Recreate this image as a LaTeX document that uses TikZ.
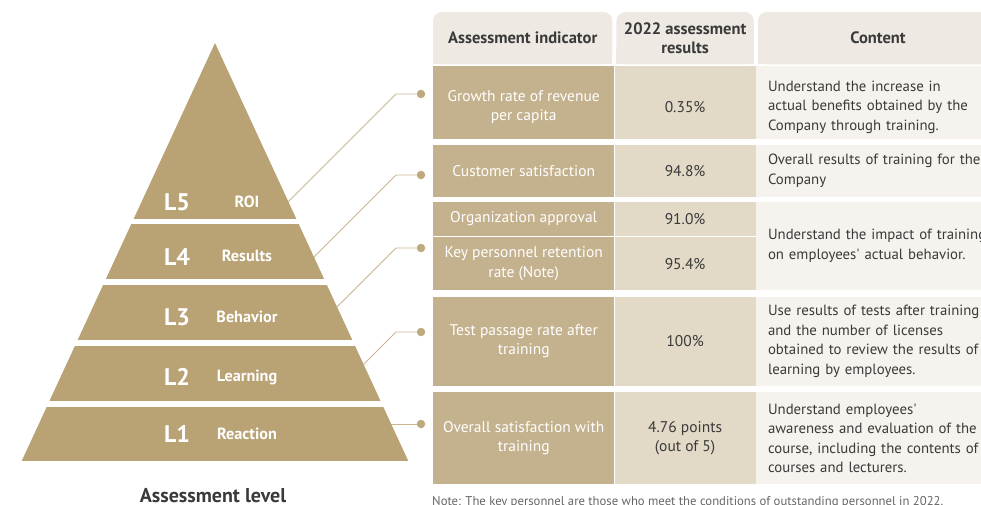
\documentclass[tikz,border=0pt]{standalone}
\usepackage{fontspec}
\setmainfont{PT Sans}
\usetikzlibrary{positioning, backgrounds}
\definecolor{pyramidfill}{HTML}{B9A274}
\definecolor{indicatorfill}{HTML}{C4B18D}
\definecolor{resultfill}{HTML}{E2D9C7}
\definecolor{contentfill}{HTML}{F6F3EE}
\definecolor{headfill}{HTML}{EEEAE3}
\definecolor{linkline}{HTML}{C9B690}
\definecolor{linkdot}{HTML}{BFA97F}
\definecolor{textdark}{HTML}{3A3A3A}
\definecolor{notegray}{HTML}{666666}

% taller first line, pushes the text of a cell a little lower
\newcommand{\rowdrop}{\rule{0pt}{19.5pt}}

\begin{document}
\begin{tikzpicture}[
        x=1pt, y=-1pt,
        levelnum/.style={
            text=white,
            font=\fontsize{24}{24}\selectfont\bfseries
        },
        levelname/.style={
            text=white,
            font=\fontsize{16.2}{18}\selectfont\bfseries
        },
        link/.style={
            draw=linkline,
            line width=0.9pt
        },
        linkend/.style={
            circle,
            fill=linkdot,
            inner sep=0pt,
            minimum size=8.5pt
        },
        headcell/.style={
            minimum height=52pt,
            inner sep=0pt,
            align=center,
            text=textdark,
            font=\fontsize{16.5}{19.5}\selectfont\bfseries
        },
        indicatorcell/.style={
            fill=indicatorfill,
            text=white,
            minimum width=181pt,
            inner sep=0pt,
            align=center,
            font=\fontsize{15.5}{19.5}\selectfont
        },
        resultcell/.style={
            fill=resultfill,
            text=textdark,
            minimum width=141pt,
            inner sep=0pt,
            align=center,
            font=\fontsize{15.5}{19.5}\selectfont
        },
        contentcell/.style={
            fill=contentfill,
            text=textdark,
            text width=300pt,
            inner xsep=12pt,
            inner ysep=0pt,
            align=left,
            font=\fontsize{14.8}{19.5}\selectfont
        }
    ]

        \useasboundingbox (0,0) rectangle (981,505);

        % ---------------------------------------------------------------------
        % Pyramid of assessment levels
        % ---------------------------------------------------------------------

        \begin{scope}
            \clip (215,43) -- (408.3,461) -- (21.7,461) -- cycle;
            \foreach \top/\bottom in {43/219, 224/279, 285/340, 346/401, 407/461}
                \fill[pyramidfill] (0,\top) rectangle (440,\bottom);
        \end{scope}

        \node[levelnum] (lfive) at (177,202) {L5};
        \node[levelname] (roi) at (247,202) {ROI};

        \node[levelnum] (lfour) at (177,257) {L4};
        \node[levelname] (results) at (247,256) {Results};

        \node[levelnum] (lthree) at (177,317) {L3};
        \node[levelname] (behavior) at (247,317) {Behavior};

        \node[levelnum] (ltwo) at (177,377) {L2};
        \node[levelname] (learning) at (247,377) {Learning};

        \node[levelnum] (lone) at (177,434) {L1};
        \node[levelname] (reaction) at (247,434) {Reaction};

        \node[
            text=textdark,
            font=\fontsize{20}{22}\selectfont\bfseries,
            anchor=base
        ] (levelcaption) at (213,502.5) {Assessment level};


        % ---------------------------------------------------------------------
        % Header row
        % ---------------------------------------------------------------------

        \node[
            headcell,
            minimum width=179pt,
            anchor=north west
        ] (headindicator) at (433,12) {Assessment indicator};

        \node[
            headcell,
            minimum width=137pt,
            right=4pt of headindicator
        ] (headresult) {2022 assessment\\results};

        \node[
            headcell,
            minimum width=240pt,
            right=4pt of headresult
        ] (headcontent) {Content};

        % Only the upper corners of the header cells are rounded.
        \begin{scope}[on background layer]
            \foreach \cell in {headindicator, headresult, headcontent} {
                \fill[headfill, rounded corners=9pt]
                    (\cell.south west) rectangle (\cell.north east);
                \fill[headfill]
                    (\cell.south west) rectangle ([yshift=15pt]\cell.south east);
            }
        \end{scope}


        % ---------------------------------------------------------------------
        % Body rows, one per level
        % ---------------------------------------------------------------------

        \node[
            indicatorcell,
            minimum height=73pt,
            anchor=north west
        ] (growth) at (433,66) {\rowdrop Growth rate of revenue\\per capita};

        \node[
            resultcell,
            minimum height=73pt,
            right=0pt of growth
        ] (growthvalue) {\rowdrop 0.35\%};

        \node[
            contentcell,
            minimum height=73pt,
            right=0pt of growthvalue
        ] (growthcontent) {\rowdrop Understand the increase in\\actual benefits obtained by the\\Company through training.};

        \node[
            indicatorcell,
            minimum height=52pt,
            below=5pt of growth
        ] (satisfaction) {Customer satisfaction};

        \node[
            resultcell,
            minimum height=52pt,
            right=0pt of satisfaction
        ] (satisfactionvalue) {94.8\%};

        \node[
            contentcell,
            minimum height=52pt,
            right=0pt of satisfactionvalue
        ] (satisfactioncontent) {Overall results of training for the\\Company};

        \node[
            indicatorcell,
            minimum height=34pt,
            below=5pt of satisfaction
        ] (approval) {Organization approval};

        \node[
            resultcell,
            minimum height=34pt,
            right=0pt of approval
        ] (approvalvalue) {91.0\%};

        \node[
            indicatorcell,
            minimum height=53pt,
            below=1pt of approval
        ] (retention) {Key personnel retention\\rate (Note)};

        \node[
            resultcell,
            minimum height=53pt,
            right=0pt of retention
        ] (retentionvalue) {95.4\%};

        % Content cell spans both behavior indicators.
        \node[
            contentcell,
            minimum height=88pt,
            anchor=north west
        ] (behaviorcontent) at (approvalvalue.north east) {Understand the impact of training\\on employees\textquotesingle{} actual behavior.};

        \node[
            indicatorcell,
            minimum height=89pt,
            below=6pt of retention
        ] (passage) {Test passage rate after\\training};

        \node[
            resultcell,
            minimum height=89pt,
            right=0pt of passage
        ] (passagevalue) {100\%};

        \node[
            contentcell,
            minimum height=89pt,
            right=0pt of passagevalue
        ] (passagecontent) {Use results of tests after training\\and the number of licenses\\obtained to review the results of\\learning by employees.};

        \node[
            indicatorcell,
            minimum height=92pt,
            below=6pt of passage
        ] (overall) {Overall satisfaction with\\training};

        \node[
            resultcell,
            minimum height=92pt,
            right=0pt of overall
        ] (overallvalue) {4.76 points\\(out of 5)};

        \node[
            contentcell,
            minimum height=92pt,
            right=0pt of overallvalue
        ] (overallcontent) {Understand employees\textquotesingle\\awareness and evaluation of the\\course, including the contents of\\courses and lecturers.};

        \node[
            text=notegray,
            font=\fontsize{12.7}{14}\selectfont,
            anchor=base west,
            inner sep=0pt
        ] (note) at (432,505) {Note: The key personnel are those who meet the conditions of outstanding personnel in 2022.};


        % ---------------------------------------------------------------------
        % Leader lines from the pyramid to the table
        % ---------------------------------------------------------------------

        \coordinate (roiedge) at (288.4,201.6);
        \coordinate (resultsedge) at (314,257);
        \coordinate (behavioredge) at (337.1,306.9);
        \coordinate (learningedge) at (363.6,364.4);
        \coordinate (reactionedge) at (391.2,424);

        \node[linkend] (roidot) at (421,94) {};
        \node[linkend] (resultsdot) at (421,175) {};
        \node[linkend] (behaviordot) at (421,248) {};
        \node[linkend] (learningdot) at (421,332) {};
        \node[linkend] (reactiondot) at (421,424) {};

        \draw[link]
            (roiedge) -- ([xshift=-25pt]roidot.center) -- (roidot);

        \draw[link]
            (resultsedge) -- ([xshift=-25pt]resultsdot.center) -- (resultsdot);

        \draw[link]
            (behavioredge) -- ([xshift=-25pt]behaviordot.center) -- (behaviordot);

        \draw[link]
            (learningedge) -- ([xshift=-25pt]learningdot.center) -- (learningdot);

        \draw[link]
            (reactionedge) -- (reactiondot);

    \end{tikzpicture}
\end{document}
